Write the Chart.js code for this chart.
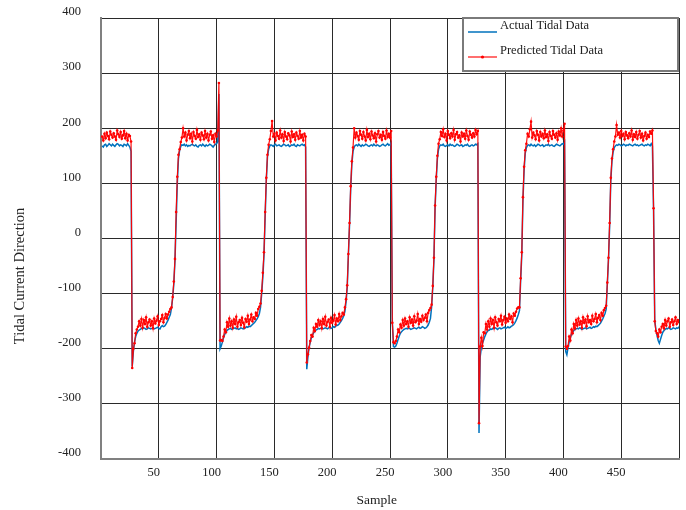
<!DOCTYPE html>
<html>
  <head>
    <script src="https://cdn.jsdelivr.net/npm/chart.js"></script>
    <style>
      body { margin: 0; background: #fff; }
    </style>
  </head>
  <body>
    <canvas id="tideChart" width="686" height="510"></canvas>

    <script>
      // values, one per sample (1..500)
      const actual = [
        168,166,170,171,167,169,172,170,168,171,169,167,170,172,171,168,170,169,167,171,170,168,172,169,166,158,
        -232,
        -205,-188,-178,-172,-168,-166,-165,-163,-164,-162,-163,-165,-164,-162,-163,-164,-163,-162,-164,-163,-162,-161,-163,-164,-160,-158,-160,-159,-156,-152,-148,-143,-138,
        -126,-108,-82,-40,30,100,145,160,167,170,
        169,171,168,170,167,169,168,170,171,169,168,170,167,166,169,170,168,171,169,167,170,168,169,171,170,168,166,169,171,172,176,
        262,
        -200,-195,-188,-180,-174,-170,-167,-165,-164,-163,-165,-164,-163,-162,-164,-163,-165,-164,-162,-163,-164,-163,-162,-160,-161,-159,-160,-158,-156,-154,-152,-149,-146,-142,-136,
        -125,-100,-70,-30,40,105,148,162,
        168,170,169,167,170,171,168,169,170,168,167,169,171,170,168,169,170,167,168,170,169,171,168,167,170,169,168,170,171,169,170,166,
        -237,
        -215,-198,-188,-180,-175,-171,-168,-166,-165,-163,-164,-163,-162,-164,-163,-162,-163,-164,-162,-161,-163,-162,-160,-161,-159,-158,-157,-155,-152,-149,-145,-140,-132,
        -115,-89,-30,25,90,135,158,
        166,169,170,168,171,169,167,170,168,169,171,170,168,167,169,170,168,171,169,168,170,169,167,168,170,171,169,168,170,172,169,170,174,
        -150,
        -196,-197,-195,-190,-183,-177,-172,-169,-167,-165,-164,-163,-164,-162,-163,-165,-164,-163,-162,-163,-164,-162,-161,-163,-162,-160,-161,-163,-162,-160,-157,-152,-145,
        -124,-89,-39,56,106,145,162,
        168,170,169,171,168,167,169,170,168,171,169,170,168,167,169,171,170,168,169,170,167,168,170,169,171,168,167,169,170,168,169,171,170,172,
        -353,
        -215,-198,-190,-184,-178,-173,-169,-167,-166,-164,-165,-163,-164,-162,-163,-165,-163,-162,-164,-163,-162,-161,-163,-162,-160,-162,-161,-159,-158,-156,-153,-149,-144,-138,
        -131,-77,-30,69,124,155,
        165,169,170,168,171,169,168,170,167,169,171,170,168,169,170,167,168,170,169,171,168,169,170,168,167,169,171,170,169,168,170,172,171,175,
        -205,-211,
        -198,-188,-180,-174,-170,-167,-165,-164,-163,-164,-162,-163,-165,-164,-163,-162,-164,-163,-162,-161,-163,-162,-160,-161,-159,-160,-158,-156,-154,-150,-146,-141,-136,
        -128,-83,-39,23,105,140,157,165,
        168,170,169,171,170,168,169,171,170,168,170,169,171,170,169,168,170,171,169,170,168,169,170,171,169,168,170,169,171,170,168,172,168,
        50,
        -148,-165,-176,-185,-190,-183,-176,-170,-167,-165,-163,-164,-162,-163,-165,-164,-162,-163,-164,-162,-163,-160
      ];

      const predicted = [
        185,178,190,182,192,186,180,194,188,183,191,185,179,196,189,184,193,181,187,195,182,190,178,188,186,176,
        -235,
        -200,-190,-172,-165,-160,-150,-158,-146,-162,-148,-155,-143,-160,-152,-147,-158,-150,-163,-145,-154,-149,-141,-157,-150,-146,-139,-152,-144,-137,-145,-138,-133,-128,
        -125,-106,-78,-37,48,112,152,162,175,183,
        200,185,192,178,188,195,182,190,176,193,186,181,197,184,189,179,192,187,180,195,183,190,178,188,194,181,187,175,190,185,196,
        282,
        -185,-184,-186,-178,-165,-170,-152,-160,-145,-158,-150,-162,-147,-155,-142,-160,-152,-148,-157,-144,-153,-161,-146,-151,-140,-155,-147,-138,-150,-143,-146,-135,-140,-128,-124,
        -118,-95,-62,-25,48,110,152,170,
        180,195,213,185,190,178,192,186,181,196,183,189,177,193,185,180,191,187,176,194,184,189,179,192,186,181,195,183,188,178,190,185,
        -225,
        -210,-198,-186,-175,-178,-162,-168,-155,-160,-148,-157,-150,-163,-146,-155,-142,-158,-151,-147,-160,-144,-153,-149,-139,-156,-145,-150,-137,-148,-141,-135,-138,-125,
        -110,-85,-28,28,95,140,165,
        200,183,192,186,179,195,188,181,193,185,178,197,184,190,180,194,187,182,191,176,189,195,183,188,179,193,186,181,196,184,190,183,195,
        -153,
        -188,-190,-186,-178,-165,-170,-156,-162,-148,-158,-145,-155,-150,-160,-143,-153,-147,-158,-141,-152,-149,-137,-155,-146,-151,-140,-148,-144,-138,-150,-135,-130,-126,
        -120,-86,-35,60,112,150,172,
        180,193,186,198,184,190,178,195,188,182,191,185,197,179,189,193,183,187,176,192,185,190,181,196,186,179,194,188,183,191,185,197,189,195,
        -335,
        -196,-180,-195,-170,-172,-155,-165,-150,-160,-145,-155,-148,-162,-143,-152,-158,-146,-150,-140,-156,-148,-142,-153,-145,-150,-138,-146,-141,-152,-136,-140,-133,-127,-125,
        -125,-72,-25,75,130,160,
        172,190,185,198,212,183,192,187,180,195,188,178,193,185,190,182,196,184,189,177,193,186,181,195,188,183,191,179,194,187,200,185,196,208,
        -196,-200,
        -195,-178,-185,-165,-172,-155,-163,-148,-158,-145,-156,-150,-162,-143,-153,-147,-159,-141,-152,-148,-155,-140,-150,-146,-137,-152,-144,-139,-148,-135,-140,-130,-126,
        -122,-80,-35,28,110,145,162,176,
        185,206,188,192,183,195,186,190,180,193,187,182,191,185,196,179,189,184,193,181,188,195,183,190,178,186,192,181,188,184,194,190,196,
        55,
        -150,-168,-172,-178,-165,-170,-160,-155,-163,-148,-158,-150,-145,-160,-152,-147,-157,-150,-143,-155,-148,-152
      ];

      const seriesNames = ['Actual Tidal Data', 'Predicted Tidal Data'];
      const hiddenXTicks = [0, 500];
      const xTitle = 'Sample';
      const yTitle = 'Tidal Current Direction';

      const serif = '"Liberation Serif", "Times New Roman", serif';

      const toPoints = arr => arr.map((v, i) => ({ x: i + 1, y: v }));

      // axis titles sit a little off-centre in the original, so draw them by hand
      const axisTitles = {
        id: 'axisTitles',
        afterDraw(chart) {
          const ctx = chart.ctx;
          const area = chart.chartArea;
          ctx.save();
          ctx.fillStyle = '#222';
          ctx.textAlign = 'center';
          ctx.textBaseline = 'middle';
          ctx.font = '13.5px ' + serif;
          ctx.fillText(xTitle, area.left + (area.right - area.left) * 0.477, 500);
          ctx.translate(20, area.top + (area.bottom - area.top) * 0.585);
          ctx.rotate(-Math.PI / 2);
          ctx.font = '14.5px ' + serif;
          ctx.fillText(yTitle, 0, 0);
          ctx.restore();
        }
      };

      // boxed legend in the top right corner of the plot
      const legendBox = {
        id: 'legendBox',
        afterDraw(chart) {
          const ctx = chart.ctx;
          const area = chart.chartArea;
          const w = 215, h = 53;
          const x = area.right - w - 1, y = area.top;
          ctx.save();
          ctx.fillStyle = '#fff';
          ctx.fillRect(x, y, w, h);
          ctx.strokeStyle = '#7a7a7a';
          ctx.lineWidth = 2;
          ctx.strokeRect(x, y, w, h);
          ctx.font = '12.5px ' + serif;
          ctx.textBaseline = 'middle';
          ctx.fillStyle = '#222';
          chart.data.datasets.forEach((ds, i) => {
            const ly = y + 14 + i * 25;
            ctx.strokeStyle = ds.borderColor;
            ctx.lineWidth = ds.borderWidth;
            ctx.beginPath();
            ctx.moveTo(x + 5, ly);
            ctx.lineTo(x + 34, ly);
            ctx.stroke();
            if (ds.pointRadius > 0) {
              ctx.fillStyle = ds.pointBackgroundColor;
              ctx.beginPath();
              ctx.arc(x + 19.5, ly, 1.6, 0, Math.PI * 2);
              ctx.fill();
              ctx.fillStyle = '#222';
            }
            ctx.fillText(ds.label, x + 37, ly - 6);
          });
          ctx.restore();
        }
      };

      new Chart(document.getElementById('tideChart'), {
        type: 'line',
        data: {
          datasets: [
            {
              label: seriesNames[0],
              data: toPoints(actual),
              borderColor: '#0072BD',
              borderWidth: 1.5,
              pointRadius: 0,
              order: 2
            },
            {
              label: seriesNames[1],
              data: toPoints(predicted),
              borderColor: 'rgba(255,0,0,0.95)',
              borderWidth: 1.2,
              pointRadius: 1.3,
              pointBorderWidth: 0,
              pointBackgroundColor: '#ff0000',
              order: 1
            }
          ]
        },
        options: {
          responsive: false,
          animation: false,
          devicePixelRatio: 1,
          layout: { padding: { left: 0, right: 7, top: 18, bottom: 0 } },
          plugins: {
            legend: { display: false },
            tooltip: { enabled: false }
          },
          scales: {
            x: {
              type: 'linear',
              min: 0,
              max: 500,
              afterFit: s => { s.height = 51; s.paddingLeft = 0; s.paddingRight = 0; },
              grid: { color: '#2a2a2a', lineWidth: 1, drawTicks: false },
              border: { color: '#808080', width: 2 },
              ticks: {
                stepSize: 50,
                padding: 6,
                labelOffset: -5,
                color: '#222',
                font: { family: serif, size: 12.5 },
                maxRotation: 0,
                callback: v => hiddenXTicks.includes(v) ? '' : v
              }
            },
            y: {
              min: -400,
              max: 400,
              afterFit: s => { s.width = 101; s.paddingTop = 0; s.paddingBottom = 0; },
              grid: { color: '#2a2a2a', lineWidth: 1, drawTicks: false },
              border: { color: '#808080', width: 2 },
              ticks: {
                stepSize: 100,
                padding: 20,
                labelOffset: -6,
                color: '#222',
                font: { family: serif, size: 12.5 }
              }
            }
          }
        },
        plugins: [axisTitles, legendBox]
      });
    </script>
  </body>
</html>
